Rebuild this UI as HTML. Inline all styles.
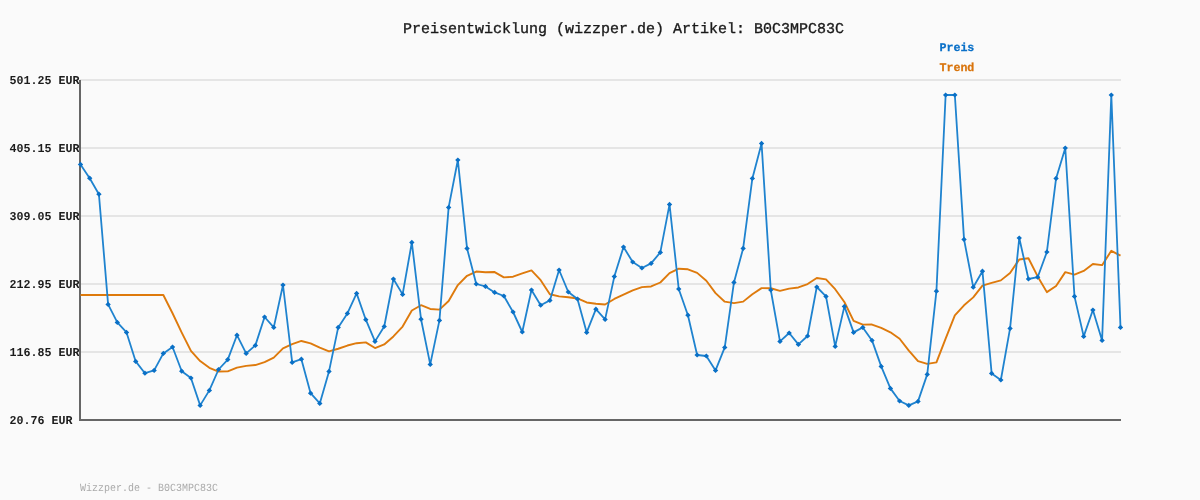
<!DOCTYPE html>
<html><head><meta charset="utf-8"><style>
html,body{margin:0;padding:0;background:#fafafa;}
svg{display:block;}
svg{will-change:transform;}
text{font-family:"Liberation Mono",monospace;text-rendering:geometricPrecision;}
</style></head><body>
<svg width="1200" height="500" viewBox="0 0 1200 500">
<rect x="0" y="0" width="1200" height="500" fill="#fafafa"/>
<g stroke="#e5e5e5" stroke-width="2">
<line x1="80" y1="80" x2="1121" y2="80"/><line x1="80" y1="148" x2="1121" y2="148"/><line x1="80" y1="216" x2="1121" y2="216"/><line x1="80" y1="284" x2="1121" y2="284"/><line x1="80" y1="352" x2="1121" y2="352"/>
</g>
<g fill="#1c1c1c" font-weight="bold" font-size="11.67">
<text transform="translate(9.5,84) scale(1,1.03)">501.25 EUR</text><text transform="translate(9.5,152) scale(1,1.03)">405.15 EUR</text><text transform="translate(9.5,220) scale(1,1.03)">309.05 EUR</text><text transform="translate(9.5,288) scale(1,1.03)">212.95 EUR</text><text transform="translate(9.5,356) scale(1,1.03)">116.85 EUR</text><text transform="translate(9.5,424) scale(1,1.03)">20.76 EUR</text>
</g>
<text x="403" y="33" font-size="15" fill="#1a1a1a" stroke="#1a1a1a" stroke-width="0.35">Preisentwicklung (wizzper.de) Artikel: B0C3MPC83C</text>
<text x="939.4" y="51" font-size="11.67" font-weight="bold" fill="#0a70c8" stroke="#0a70c8" stroke-width="0.25">Preis</text>
<text x="939.4" y="71" font-size="11.67" font-weight="bold" fill="#d9740c" stroke="#d9740c" stroke-width="0.25">Trend</text>
<text transform="translate(80,491) scale(1,1.1)" font-size="10" fill="#aaaaaa">Wizzper.de - B0C3MPC83C</text>
<path d="M80 80V420H1121" fill="none" stroke="#666" stroke-width="2"/>
<polyline fill="none" stroke="#de7a0c" stroke-width="1.9" stroke-linejoin="round" points="80.50,295.00 89.70,295.00 98.91,295.00 108.11,295.00 117.31,295.00 126.52,295.00 135.72,295.00 144.92,295.00 154.13,295.00 163.33,295.00 172.54,313.26 181.74,332.56 190.94,350.94 200.15,361.04 209.35,367.84 218.55,371.55 227.76,371.37 236.96,367.57 246.16,365.87 255.37,365.07 264.57,362.07 273.77,357.69 282.98,348.39 292.18,344.09 301.38,340.97 310.59,343.34 319.79,347.72 329.00,351.34 338.20,348.74 347.40,345.54 356.61,343.18 365.81,342.41 375.01,348.05 384.22,344.46 393.42,336.44 402.62,326.56 411.83,310.46 421.03,305.24 430.23,308.94 439.44,309.64 448.64,301.04 457.85,285.07 467.05,275.77 476.25,271.52 485.46,272.26 494.66,272.06 503.86,277.42 513.07,276.70 522.27,273.46 531.47,270.42 540.68,280.20 549.88,294.24 559.08,296.40 568.29,297.20 577.49,298.46 586.69,302.46 595.90,303.78 605.10,304.52 614.31,298.98 623.51,294.68 632.71,290.36 641.92,287.12 651.12,286.46 660.32,282.50 669.53,273.04 678.73,268.70 687.93,269.30 697.14,272.86 706.34,280.80 715.54,293.14 724.75,301.68 733.95,303.12 743.15,301.62 752.36,294.22 761.56,288.12 770.77,288.22 779.97,290.84 789.17,288.64 798.38,287.48 807.58,284.04 816.78,278.00 825.99,279.40 835.19,289.20 844.39,302.00 853.60,320.90 862.80,324.64 872.00,324.54 881.21,327.88 890.41,332.28 899.62,338.78 908.82,350.62 918.02,361.12 927.23,363.92 936.43,362.40 945.63,338.66 954.84,315.42 964.04,305.32 973.24,297.40 982.45,285.68 991.65,282.92 1000.85,280.38 1010.06,273.08 1019.26,259.44 1028.46,258.22 1037.67,276.44 1046.87,292.14 1056.08,286.04 1065.28,272.12 1074.48,274.64 1083.69,270.94 1092.89,263.94 1102.09,265.14 1111.30,250.84 1120.50,255.68"/>
<polyline fill="none" stroke="#1f83cf" stroke-width="1.8" stroke-linejoin="round" points="80.50,164.40 89.70,178.20 98.91,194.20 108.11,304.40 117.31,322.40 126.52,332.40 135.72,361.40 144.92,373.20 154.13,370.40 163.33,353.40 172.54,347.00 181.74,371.20 190.94,378.00 200.15,405.40 209.35,390.40 218.55,369.50 227.76,359.60 236.96,335.20 246.16,353.40 255.37,345.40 264.57,317.00 273.77,327.40 282.98,285.00 292.18,362.40 301.38,359.20 310.59,393.20 319.79,403.40 329.00,371.40 338.20,327.40 347.40,313.40 356.61,293.40 365.81,319.70 375.01,341.40 384.22,326.50 393.42,279.00 402.62,294.40 411.83,242.40 421.03,319.20 430.23,364.40 439.44,320.40 448.64,207.40 457.85,160.00 467.05,248.40 476.25,284.00 485.46,286.40 494.66,292.40 503.86,296.00 513.07,312.00 522.27,332.00 531.47,290.00 540.68,305.20 549.88,300.40 559.08,270.00 568.29,292.00 577.49,299.00 586.69,332.40 595.90,309.20 605.10,319.40 614.31,276.60 623.51,247.00 632.71,262.00 641.92,268.00 651.12,263.40 660.32,252.40 669.53,204.40 678.73,289.00 687.93,315.20 697.14,355.00 706.34,356.00 715.54,370.40 724.75,347.40 733.95,282.40 743.15,248.40 752.36,178.40 761.56,143.40 770.77,290.00 779.97,341.40 789.17,333.00 798.38,344.40 807.58,336.00 816.78,287.00 825.99,296.40 835.19,346.40 844.39,306.40 853.60,332.40 862.80,327.40 872.00,340.40 881.21,366.40 890.41,388.40 899.62,401.00 908.82,405.40 918.02,401.40 927.23,374.40 936.43,291.20 945.63,95.00 954.84,95.00 964.04,239.40 973.24,287.20 982.45,271.20 991.65,373.40 1000.85,380.00 1010.06,328.40 1019.26,238.00 1028.46,279.00 1037.67,277.20 1046.87,252.00 1056.08,178.40 1065.28,148.00 1074.48,296.40 1083.69,336.40 1092.89,310.00 1102.09,340.40 1111.30,95.00 1120.50,327.40"/>
<path fill="#0a70c6" d="M77.80 164.40L80.50 161.80L83.20 164.40L80.50 167.00ZM87.00 178.20L89.70 175.60L92.40 178.20L89.70 180.80ZM96.21 194.20L98.91 191.60L101.61 194.20L98.91 196.80ZM105.41 304.40L108.11 301.80L110.81 304.40L108.11 307.00ZM114.61 322.40L117.31 319.80L120.01 322.40L117.31 325.00ZM123.82 332.40L126.52 329.80L129.22 332.40L126.52 335.00ZM133.02 361.40L135.72 358.80L138.42 361.40L135.72 364.00ZM142.22 373.20L144.92 370.60L147.62 373.20L144.92 375.80ZM151.43 370.40L154.13 367.80L156.83 370.40L154.13 373.00ZM160.63 353.40L163.33 350.80L166.03 353.40L163.33 356.00ZM169.84 347.00L172.54 344.40L175.24 347.00L172.54 349.60ZM179.04 371.20L181.74 368.60L184.44 371.20L181.74 373.80ZM188.24 378.00L190.94 375.40L193.64 378.00L190.94 380.60ZM197.45 405.40L200.15 402.80L202.85 405.40L200.15 408.00ZM206.65 390.40L209.35 387.80L212.05 390.40L209.35 393.00ZM215.85 369.50L218.55 366.90L221.25 369.50L218.55 372.10ZM225.06 359.60L227.76 357.00L230.46 359.60L227.76 362.20ZM234.26 335.20L236.96 332.60L239.66 335.20L236.96 337.80ZM243.46 353.40L246.16 350.80L248.86 353.40L246.16 356.00ZM252.67 345.40L255.37 342.80L258.07 345.40L255.37 348.00ZM261.87 317.00L264.57 314.40L267.27 317.00L264.57 319.60ZM271.07 327.40L273.77 324.80L276.47 327.40L273.77 330.00ZM280.28 285.00L282.98 282.40L285.68 285.00L282.98 287.60ZM289.48 362.40L292.18 359.80L294.88 362.40L292.18 365.00ZM298.68 359.20L301.38 356.60L304.08 359.20L301.38 361.80ZM307.89 393.20L310.59 390.60L313.29 393.20L310.59 395.80ZM317.09 403.40L319.79 400.80L322.49 403.40L319.79 406.00ZM326.30 371.40L329.00 368.80L331.70 371.40L329.00 374.00ZM335.50 327.40L338.20 324.80L340.90 327.40L338.20 330.00ZM344.70 313.40L347.40 310.80L350.10 313.40L347.40 316.00ZM353.91 293.40L356.61 290.80L359.31 293.40L356.61 296.00ZM363.11 319.70L365.81 317.10L368.51 319.70L365.81 322.30ZM372.31 341.40L375.01 338.80L377.71 341.40L375.01 344.00ZM381.52 326.50L384.22 323.90L386.92 326.50L384.22 329.10ZM390.72 279.00L393.42 276.40L396.12 279.00L393.42 281.60ZM399.92 294.40L402.62 291.80L405.32 294.40L402.62 297.00ZM409.13 242.40L411.83 239.80L414.53 242.40L411.83 245.00ZM418.33 319.20L421.03 316.60L423.73 319.20L421.03 321.80ZM427.53 364.40L430.23 361.80L432.93 364.40L430.23 367.00ZM436.74 320.40L439.44 317.80L442.14 320.40L439.44 323.00ZM445.94 207.40L448.64 204.80L451.34 207.40L448.64 210.00ZM455.15 160.00L457.85 157.40L460.55 160.00L457.85 162.60ZM464.35 248.40L467.05 245.80L469.75 248.40L467.05 251.00ZM473.55 284.00L476.25 281.40L478.95 284.00L476.25 286.60ZM482.76 286.40L485.46 283.80L488.16 286.40L485.46 289.00ZM491.96 292.40L494.66 289.80L497.36 292.40L494.66 295.00ZM501.16 296.00L503.86 293.40L506.56 296.00L503.86 298.60ZM510.37 312.00L513.07 309.40L515.77 312.00L513.07 314.60ZM519.57 332.00L522.27 329.40L524.97 332.00L522.27 334.60ZM528.77 290.00L531.47 287.40L534.17 290.00L531.47 292.60ZM537.98 305.20L540.68 302.60L543.38 305.20L540.68 307.80ZM547.18 300.40L549.88 297.80L552.58 300.40L549.88 303.00ZM556.38 270.00L559.08 267.40L561.78 270.00L559.08 272.60ZM565.59 292.00L568.29 289.40L570.99 292.00L568.29 294.60ZM574.79 299.00L577.49 296.40L580.19 299.00L577.49 301.60ZM583.99 332.40L586.69 329.80L589.39 332.40L586.69 335.00ZM593.20 309.20L595.90 306.60L598.60 309.20L595.90 311.80ZM602.40 319.40L605.10 316.80L607.80 319.40L605.10 322.00ZM611.61 276.60L614.31 274.00L617.01 276.60L614.31 279.20ZM620.81 247.00L623.51 244.40L626.21 247.00L623.51 249.60ZM630.01 262.00L632.71 259.40L635.41 262.00L632.71 264.60ZM639.22 268.00L641.92 265.40L644.62 268.00L641.92 270.60ZM648.42 263.40L651.12 260.80L653.82 263.40L651.12 266.00ZM657.62 252.40L660.32 249.80L663.02 252.40L660.32 255.00ZM666.83 204.40L669.53 201.80L672.23 204.40L669.53 207.00ZM676.03 289.00L678.73 286.40L681.43 289.00L678.73 291.60ZM685.23 315.20L687.93 312.60L690.63 315.20L687.93 317.80ZM694.44 355.00L697.14 352.40L699.84 355.00L697.14 357.60ZM703.64 356.00L706.34 353.40L709.04 356.00L706.34 358.60ZM712.84 370.40L715.54 367.80L718.24 370.40L715.54 373.00ZM722.05 347.40L724.75 344.80L727.45 347.40L724.75 350.00ZM731.25 282.40L733.95 279.80L736.65 282.40L733.95 285.00ZM740.45 248.40L743.15 245.80L745.85 248.40L743.15 251.00ZM749.66 178.40L752.36 175.80L755.06 178.40L752.36 181.00ZM758.86 143.40L761.56 140.80L764.26 143.40L761.56 146.00ZM768.07 290.00L770.77 287.40L773.47 290.00L770.77 292.60ZM777.27 341.40L779.97 338.80L782.67 341.40L779.97 344.00ZM786.47 333.00L789.17 330.40L791.87 333.00L789.17 335.60ZM795.68 344.40L798.38 341.80L801.08 344.40L798.38 347.00ZM804.88 336.00L807.58 333.40L810.28 336.00L807.58 338.60ZM814.08 287.00L816.78 284.40L819.48 287.00L816.78 289.60ZM823.29 296.40L825.99 293.80L828.69 296.40L825.99 299.00ZM832.49 346.40L835.19 343.80L837.89 346.40L835.19 349.00ZM841.69 306.40L844.39 303.80L847.09 306.40L844.39 309.00ZM850.90 332.40L853.60 329.80L856.30 332.40L853.60 335.00ZM860.10 327.40L862.80 324.80L865.50 327.40L862.80 330.00ZM869.30 340.40L872.00 337.80L874.70 340.40L872.00 343.00ZM878.51 366.40L881.21 363.80L883.91 366.40L881.21 369.00ZM887.71 388.40L890.41 385.80L893.11 388.40L890.41 391.00ZM896.92 401.00L899.62 398.40L902.32 401.00L899.62 403.60ZM906.12 405.40L908.82 402.80L911.52 405.40L908.82 408.00ZM915.32 401.40L918.02 398.80L920.72 401.40L918.02 404.00ZM924.53 374.40L927.23 371.80L929.93 374.40L927.23 377.00ZM933.73 291.20L936.43 288.60L939.13 291.20L936.43 293.80ZM942.93 95.00L945.63 92.40L948.33 95.00L945.63 97.60ZM952.14 95.00L954.84 92.40L957.54 95.00L954.84 97.60ZM961.34 239.40L964.04 236.80L966.74 239.40L964.04 242.00ZM970.54 287.20L973.24 284.60L975.94 287.20L973.24 289.80ZM979.75 271.20L982.45 268.60L985.15 271.20L982.45 273.80ZM988.95 373.40L991.65 370.80L994.35 373.40L991.65 376.00ZM998.15 380.00L1000.85 377.40L1003.55 380.00L1000.85 382.60ZM1007.36 328.40L1010.06 325.80L1012.76 328.40L1010.06 331.00ZM1016.56 238.00L1019.26 235.40L1021.96 238.00L1019.26 240.60ZM1025.76 279.00L1028.46 276.40L1031.16 279.00L1028.46 281.60ZM1034.97 277.20L1037.67 274.60L1040.37 277.20L1037.67 279.80ZM1044.17 252.00L1046.87 249.40L1049.57 252.00L1046.87 254.60ZM1053.38 178.40L1056.08 175.80L1058.78 178.40L1056.08 181.00ZM1062.58 148.00L1065.28 145.40L1067.98 148.00L1065.28 150.60ZM1071.78 296.40L1074.48 293.80L1077.18 296.40L1074.48 299.00ZM1080.99 336.40L1083.69 333.80L1086.39 336.40L1083.69 339.00ZM1090.19 310.00L1092.89 307.40L1095.59 310.00L1092.89 312.60ZM1099.39 340.40L1102.09 337.80L1104.79 340.40L1102.09 343.00ZM1108.60 95.00L1111.30 92.40L1114.00 95.00L1111.30 97.60ZM1117.80 327.40L1120.50 324.80L1123.20 327.40L1120.50 330.00Z"/>
</svg>
</body></html>
